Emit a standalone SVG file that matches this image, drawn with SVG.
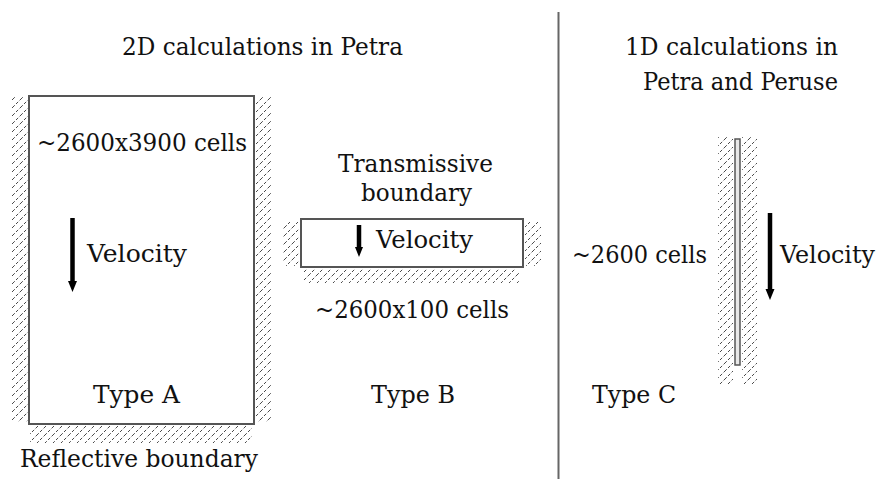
<svg xmlns="http://www.w3.org/2000/svg" width="882" height="479" viewBox="0 0 882 479">
<defs>
<pattern id="hatch" patternUnits="userSpaceOnUse" width="8" height="8">
<path d="M-1,9 L9,-1 M-2,2 L2,-2 M6,10 L10,6" stroke="#333" stroke-width="0.9" stroke-dasharray="4.5 2" fill="none"/>
</pattern>
</defs>
<style>
.box{fill:#fff;stroke:#555;stroke-width:2}
.hatch{fill:url(#hatch);stroke:none}
.shaft{stroke:#000;stroke-width:4.5}
.head{fill:#000}
</style>
<rect width="882" height="479" fill="#fff"/>
<g font-family="DejaVu Serif, Liberation Serif, serif" font-size="25" fill="#111">
<g id="headings">
<text x="122" y="55" textLength="281" lengthAdjust="spacingAndGlyphs">2D calculations in Petra</text>
<text x="625" y="55" textLength="213" lengthAdjust="spacingAndGlyphs">1D calculations in</text>
<text x="643" y="90" textLength="195" lengthAdjust="spacingAndGlyphs">Petra and Peruse</text>
</g>
<line id="divider" x1="558.5" y1="12" x2="558.5" y2="479" stroke="#666" stroke-width="2"/>
<g id="typeA">
<rect class="hatch" x="12" y="96" width="16" height="326"/>
<rect class="hatch" x="256" y="96" width="15" height="326"/>
<rect class="hatch" x="30" y="426" width="222" height="17"/>
<rect class="box" x="29" y="96" width="225" height="328"/>
<text x="37" y="151" textLength="210" lengthAdjust="spacingAndGlyphs">~2600x3900 cells</text>
<text x="87" y="262" textLength="100" lengthAdjust="spacingAndGlyphs">Velocity</text>
<text x="93" y="403" textLength="87" lengthAdjust="spacingAndGlyphs">Type A</text>
<text x="20" y="467" textLength="238" lengthAdjust="spacingAndGlyphs">Reflective boundary</text>
</g>
<g id="typeB">
<rect class="hatch" x="283" y="222" width="16" height="44"/>
<rect class="hatch" x="525" y="222" width="16" height="44"/>
<rect class="hatch" x="303" y="269" width="217" height="14"/>
<rect class="box" x="301" y="219" width="222" height="48"/>
<text x="338" y="172" textLength="155" lengthAdjust="spacingAndGlyphs">Transmissive</text>
<text x="361" y="201" textLength="111" lengthAdjust="spacingAndGlyphs">boundary</text>
<text x="376" y="248" textLength="97" lengthAdjust="spacingAndGlyphs">Velocity</text>
<text x="315" y="318" textLength="194" lengthAdjust="spacingAndGlyphs">~2600x100 cells</text>
<text x="371" y="403" textLength="84" lengthAdjust="spacingAndGlyphs">Type B</text>
</g>
<g id="typeC">
<rect class="hatch" x="718" y="137" width="15" height="248"/>
<rect class="hatch" x="742" y="137" width="15" height="248"/>
<rect x="735" y="139" width="5" height="226" fill="#e8e8e8" stroke="#555" stroke-width="1.5"/>
<text x="572" y="263" textLength="135" lengthAdjust="spacingAndGlyphs">~2600 cells</text>
<text x="780" y="263" font-size="24" textLength="95" lengthAdjust="spacingAndGlyphs">Velocity</text>
<text x="592" y="403" textLength="84" lengthAdjust="spacingAndGlyphs">Type C</text>
</g>
</g>
<g id="connectors">
<line class="shaft" x1="72.5" y1="218" x2="72.5" y2="283"/>
<polygon class="head" points="68,281 77,281 72.5,292"/>
<line class="shaft" x1="359" y1="225" x2="359" y2="249"/>
<polygon class="head" points="355,247 363,247 359,257"/>
<line class="shaft" x1="770" y1="213" x2="770" y2="291"/>
<polygon class="head" points="765.5,289 774.5,289 770,300"/>
</g>
</svg>
